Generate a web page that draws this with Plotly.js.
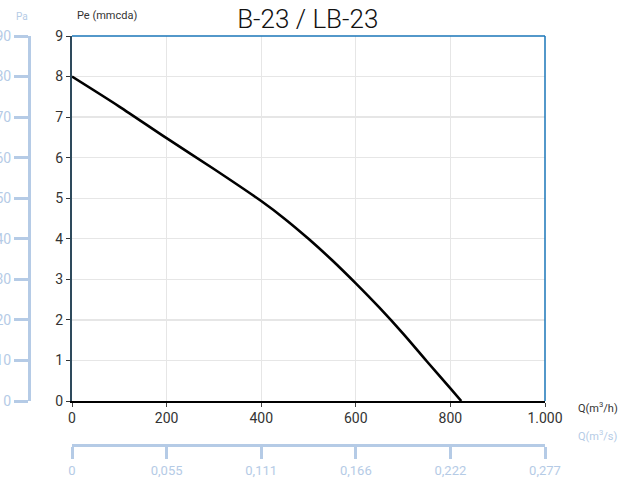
<!DOCTYPE html>
<html>
<head>
<meta charset="utf-8">
<script src="https://cdn.plot.ly/plotly-3.0.1.min.js"></script>
<style>html,body{margin:0;padding:0;background:#fff;}#chart{width:618px;height:478px;}</style>
</head>
<body>
<div id="chart"></div>
<script>
// Data
const flowQ = [0, 100, 200, 300, 400, 450, 500, 550, 600, 650, 700, 750, 800, 823];             // Q (m3/h)
const pressurePe = [8.0, 7.26, 6.48, 5.72, 4.93, 4.49, 4.0, 3.47, 2.9, 2.3, 1.66, 0.98, 0.31, 0]; // Pe (mmcda)

const qTickVals = [0, 200, 400, 600, 800, 1000];
const qTickText = ['0', '200', '400', '600', '800', '1.000'];
const qsTickText = ['0', '0,055', '0,111', '0,166', '0,222', '0,277'];
const peTickVals = [0, 1, 2, 3, 4, 5, 6, 7, 8, 9];
const paTickVals = [0, 10, 20, 30, 40, 50, 60, 70, 80, 90];

const W = 618, H = 478;
const px = v => v / W;
const py = v => 1 - v / H;
const LIGHT = '#b5cbe6';
const FONT = 'Roboto, sans-serif';

const xDom = [px(72), px(545)];
const yDom = [py(401), py(36)];

const data = [
  {
    x: flowQ, y: pressurePe, type: 'scatter', mode: 'lines',
    line: {color: '#000', width: 2.6, shape: 'spline', smoothing: 0.8},
    xaxis: 'x', yaxis: 'y', hoverinfo: 'skip', showlegend: false
  },
  // invisible carriers so that the secondary axes are drawn
  {
    x: [qTickVals[0], qTickVals[qTickVals.length - 1]], y: [peTickVals[0], peTickVals[peTickVals.length - 1]],
    type: 'scatter', mode: 'none', xaxis: 'x2', yaxis: 'y', hoverinfo: 'skip', showlegend: false
  },
  {
    x: [qTickVals[0], qTickVals[qTickVals.length - 1]], y: [paTickVals[0], paTickVals[paTickVals.length - 1]],
    type: 'scatter', mode: 'none', xaxis: 'x', yaxis: 'y3', hoverinfo: 'skip', showlegend: false
  }
];

const layout = {
  width: W, height: H,
  margin: {l: 0, r: 0, t: 0, b: 0},
  paper_bgcolor: '#fff', plot_bgcolor: '#fff',
  font: {family: FONT, color: '#333'},
  showlegend: false,
  title: {text: 'B-23 / LB-23', x: 0.498, xanchor: 'center', y: py(19), yanchor: 'middle',
          font: {family: FONT, size: 26, color: '#111', weight: 300}},
  xaxis: {
    domain: xDom, range: [0, 1000], anchor: 'y',
    tickvals: qTickVals, ticktext: qTickText,
    showgrid: true, gridcolor: '#e6e6e6', gridwidth: 1.3,
    showline: true, linecolor: '#000', linewidth: 1.5,
    ticks: 'outside', ticklen: 4, tickcolor: '#444', tickwidth: 1,
    tickfont: {family: FONT, size: 14, color: '#333'},
    zeroline: false, fixedrange: true, automargin: false
  },
  yaxis: {
    domain: yDom, range: [0, 9], anchor: 'x',
    tickvals: peTickVals,
    showgrid: true, gridcolor: '#e6e6e6', gridwidth: 1.3,
    showline: true, linecolor: '#2e4a5c', linewidth: 2,
    ticks: 'outside', ticklen: 4, tickcolor: '#333', tickwidth: 1,
    tickfont: {family: FONT, size: 14, color: '#333'},
    zeroline: false, fixedrange: true, automargin: false
  },
  xaxis2: {
    domain: xDom, range: [0, 1000], anchor: 'free', position: py(445), overlaying: 'x',
    side: 'bottom',
    tickvals: qTickVals, ticktext: qsTickText,
    showgrid: false, showline: true, linecolor: LIGHT, linewidth: 3,
    ticks: 'outside', ticklen: 12, tickcolor: LIGHT, tickwidth: 3,
    tickfont: {family: FONT, size: 13, color: LIGHT},
    zeroline: false, fixedrange: true, automargin: false
  },
  yaxis3: {
    domain: yDom, range: [0, 90], anchor: 'free', position: px(29), overlaying: 'y',
    side: 'left',
    tickvals: paTickVals,
    showgrid: false, showline: true, linecolor: LIGHT, linewidth: 3,
    ticks: 'outside', ticklen: 14, tickcolor: LIGHT, tickwidth: 3,
    tickfont: {family: FONT, size: 14, color: LIGHT},
    zeroline: false, fixedrange: true, automargin: false
  },
  shapes: [
    {type: 'line', xref: 'paper', yref: 'paper', x0: xDom[0], x1: xDom[1], y0: yDom[1], y1: yDom[1],
     line: {color: '#1a76b9', width: 1.5}},
    {type: 'line', xref: 'paper', yref: 'paper', x0: xDom[1], x1: xDom[1], y0: yDom[0], y1: yDom[1],
     line: {color: '#1a76b9', width: 1.5}}
  ],
  annotations: [
    {text: 'Pe (mmcda)', xref: 'paper', yref: 'paper', x: px(75), y: py(16), xanchor: 'left', yanchor: 'middle',
     showarrow: false, font: {family: FONT, size: 11, color: '#333'}},
    {text: 'Pa', xref: 'paper', yref: 'paper', x: px(22), y: py(17), xanchor: 'center', yanchor: 'middle',
     showarrow: false, font: {family: FONT, size: 10, color: LIGHT}},
    {text: 'Q(m<sup>3</sup>/h)', xref: 'paper', yref: 'paper', x: px(576), y: py(407), xanchor: 'left', yanchor: 'middle',
     showarrow: false, font: {family: FONT, size: 11, color: '#333'}},
    {text: 'Q(m<sup>3</sup>/s)', xref: 'paper', yref: 'paper', x: px(576), y: py(435), xanchor: 'left', yanchor: 'middle',
     showarrow: false, font: {family: FONT, size: 11, color: LIGHT}}
  ]
};

Plotly.newPlot('chart', data, layout, {displayModeBar: false, staticPlot: true});
</script>
</body>
</html>
